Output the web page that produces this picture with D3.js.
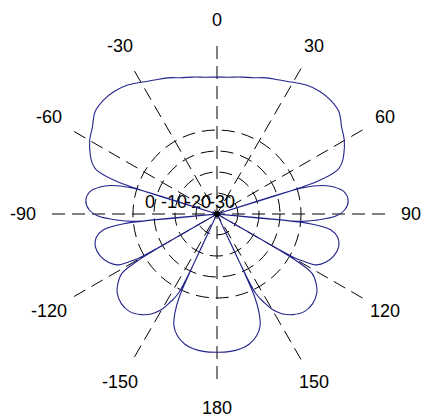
<!DOCTYPE html>
<html>
<head>
<meta charset="utf-8">
<script src="https://cdn.jsdelivr.net/npm/d3@7"></script>
<style>
  body { margin: 0; background: #fff; }
  text { font-family: "Liberation Sans", Arial, sans-serif; fill: #000; }
</style>
</head>
<body>
<div id="chart"></div>
<script>
// pattern, angle in degrees (0 = up, clockwise) and level in dB
var angleDeg = [-180,-175,-170,-166,-162,-159,-157,-155.5,-155,-154,
                -152,-150,-147,-143,-138,-133,-128,-125,-122,-120.5,
                -120,-119.5,-118.5,-117,-114,-110,-105,-101,-98,-96,
                -95.5,-95,-93.5,-91,-88,-84,-80,-77,-75,-73,
                -72.5,-72,-70,-68,-65,-60,-55,-50,-45,-40,
                -35,-30,-25,-20,-15,-10,-5,
                0,5,10,15,20,25,30,35,40,45,
                50,55,60,65,68,70,72,72.5,
                73,75,77,80,84,88,91,93.5,95,95.5,
                96,98,101,105,110,114,117,118.5,119.5,120,
                120.5,122,125,128,133,138,143,147,150,152,154,155,
                155.5,157,159,162,166,170,175,180];
var gainDb = [-7.1,-7.1,-7.4,-8.1,-9.5,-11.4,-14.3,-18.6,-40,-19.0,
              -16.2,-13.8,-11.7,-10.0,-8.8,-8.8,-9.8,-11.2,-13.3,-18.1,
              -40,-19.0,-16.2,-13.3,-11.7,-10.5,-10.0,-10.7,-12.6,-17.4,
              -40,-19.8,-16.2,-11.7,-9.5,-8.6,-9.3,-11.4,-13.8,-18.6,
              -40,-15.0,-9.5,-8.0,-6.7,-5.0,-3.8,-2.1,-1.7,-1.9,
              -2.6,-3.8,-4.8,-5.5,-6.4,-6.9,-7.3,
              -7.4,-7.3,-6.9,-6.4,-5.5,-4.8,-3.8,-2.6,-1.9,-1.7,
              -2.1,-3.8,-5.0,-6.7,-8.0,-9.5,-15.0,-40,
              -18.6,-13.8,-11.4,-9.3,-8.6,-9.5,-11.7,-16.2,-19.8,-40,
              -17.4,-12.6,-10.7,-10.0,-10.5,-11.7,-13.3,-16.2,-19.0,-40,
              -18.1,-13.3,-11.2,-9.8,-8.8,-8.8,-10.0,-11.7,-13.8,-16.2,-19.0,-40,
              -18.6,-14.3,-11.4,-9.5,-8.1,-7.4,-7.1,-7.1];

var ringLevels = [-35, -30, -25, -20];
var spokeAngles = [0, 30, 60, 90, 120, 150];
var tickAngles = [0, 30, 60, 90, 120, 150, 180, -150, -120, -90, -60, -30];
var ringLabels = ["0", "-10", "-20", "-30"];

var width = 421, height = 418;
var cx = 217, cy = 214;

var svg = d3.select("#chart").append("svg")
    .attr("width", width)
    .attr("height", height);

var g = svg.append("g")
    .attr("transform", "translate(" + cx + "," + cy + ")");

var r = d3.scaleLinear().domain([-40, 0]).range([0, 168]);
var rad = function(a) { return a * Math.PI / 180; };

// dashed rings
g.selectAll(".ring")
    .data(ringLevels)
    .enter().append("circle")
    .attr("r", function(d) { return r(d); })
    .attr("fill", "none")
    .attr("stroke", "#000")
    .attr("stroke-width", 1)
    .attr("stroke-dasharray", "13,7");

// dashed spokes, each drawn end to end through the centre
g.selectAll(".spoke")
    .data(spokeAngles)
    .enter().append("line")
    .attr("x1", function(d) { return r(0) * Math.sin(rad(d)); })
    .attr("y1", function(d) { return -r(0) * Math.cos(rad(d)); })
    .attr("x2", function(d) { return -r(0) * Math.sin(rad(d)); })
    .attr("y2", function(d) { return r(0) * Math.cos(rad(d)); })
    .attr("stroke", "#000")
    .attr("stroke-width", 1)
    .attr("stroke-dasharray", "13,7");

// angle labels
g.selectAll(".tick")
    .data(tickAngles)
    .enter().append("text")
    .attr("x", function(d) { return (r(0) + 26) * Math.sin(rad(d)); })
    .attr("y", function(d) { return -(r(0) + 26) * Math.cos(rad(d)); })
    .attr("dy", "0.35em")
    .attr("text-anchor", "middle")
    .style("font-size", "18px")
    .text(function(d) { return d; });

// ring labels, piled up left of the centre
g.selectAll(".rlabel")
    .data(ringLabels)
    .enter().append("text")
    .attr("x", function(d, i) { return -67 + i * 24; })
    .attr("y", -6)
    .attr("text-anchor", "middle")
    .style("font-size", "18px")
    .text(function(d) { return d; });

// pattern
var pts = angleDeg.map(function(a, i) { return [rad(a), r(gainDb[i])]; });

g.append("path")
    .datum(pts)
    .attr("d", d3.lineRadial()
        .angle(function(d) { return d[0]; })
        .radius(function(d) { return d[1]; })
        .curve(d3.curveCatmullRom.alpha(0.5)))
    .attr("fill", "none")
    .attr("stroke", "#23238c")
    .attr("stroke-width", 1.1);

g.append("circle")
    .attr("r", 3)
    .attr("fill", "#000");
</script>
</body>
</html>
